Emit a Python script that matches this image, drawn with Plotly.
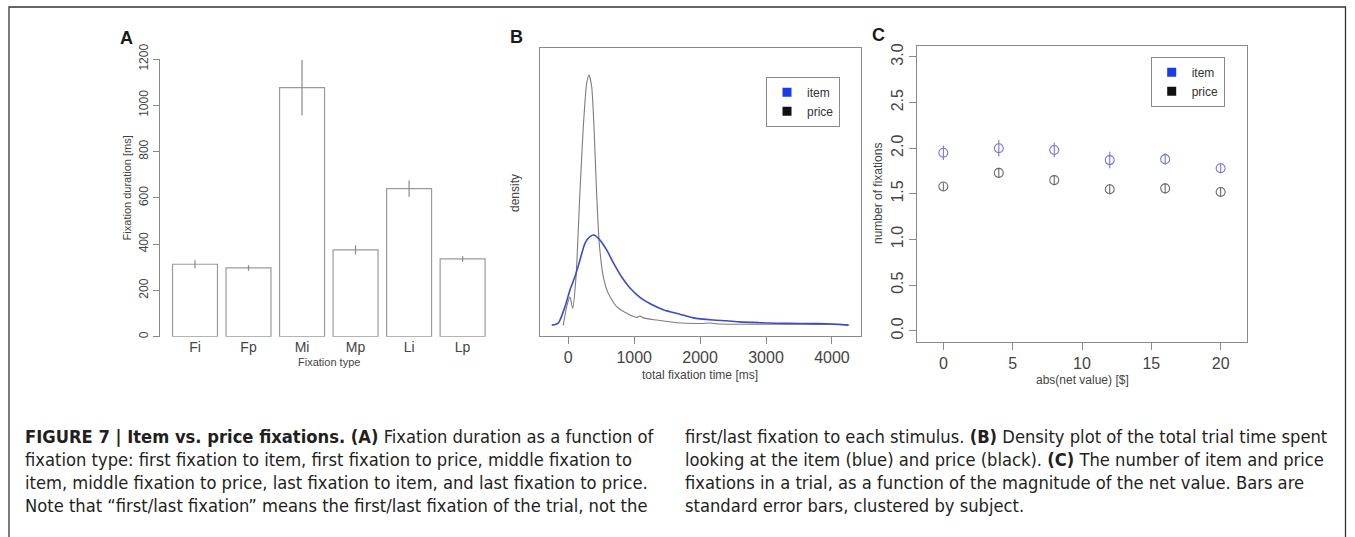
import plotly.graph_objects as go

W, H = 1355, 537

# ---------------- data ----------------
# Panel A
fix_types = ["Fi", "Fp", "Mi", "Mp", "Li", "Lp"]
fix_duration = [313, 297, 1076, 375, 640, 336]
fix_duration_se = [17, 12, 120, 20, 35, 12]

# Panel B (density curves, arbitrary density units)
item_time = [-252, -152, -50, 26, 102, 177, 253, 329, 390, 481, 582, 683, 800, 936, 1087,
             1250, 1450, 1694, 1896, 2200, 2402, 2604, 2900, 3160, 3500, 3717, 3919, 4100, 4247]
item_density = [0.0, 0.008, 0.07, 0.133, 0.183, 0.245, 0.308, 0.333, 0.339, 0.32, 0.283,
                0.235, 0.185, 0.14, 0.105, 0.08, 0.058, 0.042, 0.028, 0.02, 0.017, 0.013,
                0.01, 0.008, 0.007, 0.0065, 0.006, 0.004, 0.001]
price_time = [-76, -24, 26, 67, 117, 177, 228, 279, 314, 355, 390, 430, 470, 531, 607, 734,
              936, 1040, 1087, 1140, 1341, 1644, 2000, 2150, 2300, 3000, 3500, 4000, 4263]
price_density = [0.0, 0.07, 0.107, 0.064, 0.18, 0.50, 0.746, 0.909, 0.94, 0.896, 0.746,
                 0.496, 0.308, 0.183, 0.12, 0.07, 0.039, 0.03, 0.035, 0.028, 0.02, 0.01,
                 0.007, 0.009, 0.005, 0.004, 0.004, 0.003, 0.001]

# Panel C
net_value = [0, 4, 8, 12, 16, 20]
item_fix = [1.95, 2.00, 1.98, 1.87, 1.88, 1.78]
item_fix_se = [0.08, 0.09, 0.08, 0.09, 0.065, 0.055]
price_fix = [1.58, 1.73, 1.65, 1.55, 1.56, 1.52]
price_fix_se = [0.045, 0.055, 0.055, 0.055, 0.055, 0.045]

caption_left = [
    "<b>FIGURE 7 | Item vs. price fixations. (A)</b> Fixation duration as a function of",
    "fixation type: first fixation to item, first fixation to price, middle fixation to",
    "item, middle fixation to price, last fixation to item, and last fixation to price.",
    "Note that \u201cfirst/last fixation\u201d means the first/last fixation of the trial, not the",
]
caption_right = [
    "first/last fixation to each stimulus. <b>(B)</b> Density plot of the total trial time spent",
    "looking at the item (blue) and price (black). <b>(C)</b> The number of item and price",
    "fixations in a trial, as a function of the magnitude of the net value. Bars are",
    "standard error bars, clustered by subject.",
]

# ---------------- style ----------------
FONT = "Liberation Sans, Arial, Helvetica, sans-serif"
CAP_FONT = "DejaVu Sans Condensed, Liberation Sans Narrow, sans-serif"
TXT = "#444444"
AXC = "#8a8a8a"
BLUE_LINE = "#3b4dc6"
BLUE_PT = "#7477dc"
GRAY_LINE = "#7c7c7c"
GRAY_PT = "#6a6a6a"


def px(x):
    return x / W


def py(y):
    return 1 - y / H


fig = go.Figure()

# Panel A bars
fig.add_trace(go.Bar(
    x=fix_types, y=fix_duration,
    marker=dict(color="white", line=dict(color="#9a9a9a", width=1.2)),
    error_y=dict(type="data", array=fix_duration_se, color="#8a8a8a", thickness=1.2, width=0),
    xaxis="x", yaxis="y", showlegend=False,
))

# Panel B curves
fig.add_trace(go.Scatter(
    x=price_time, y=price_density, mode="lines",
    line=dict(color=GRAY_LINE, width=1.1, shape="spline", smoothing=0.6),
    xaxis="x2", yaxis="y2", showlegend=False,
))
fig.add_trace(go.Scatter(
    x=item_time, y=item_density, mode="lines",
    line=dict(color=BLUE_LINE, width=1.6, shape="spline", smoothing=0.6),
    xaxis="x2", yaxis="y2", showlegend=False,
))

# Panel C points
fig.add_trace(go.Scatter(
    x=net_value, y=item_fix, mode="markers",
    marker=dict(symbol="circle-open", size=9, color=BLUE_PT, line=dict(width=1.1)),
    error_y=dict(type="data", array=item_fix_se, color=BLUE_PT, thickness=1.1, width=0),
    xaxis="x3", yaxis="y3", showlegend=False,
))
fig.add_trace(go.Scatter(
    x=net_value, y=price_fix, mode="markers",
    marker=dict(symbol="circle-open", size=9, color=GRAY_PT, line=dict(width=1.1)),
    error_y=dict(type="data", array=price_fix_se, color=GRAY_PT, thickness=1.1, width=0),
    xaxis="x3", yaxis="y3", showlegend=False,
))

# Legend entries
for lg, xa, ya in [("legend", "x2", "y2"), ("legend2", "x3", "y3")]:
    fig.add_trace(go.Scatter(x=[None], y=[None], mode="markers", name="item",
                             marker=dict(symbol="square", size=9, color="#1a3be8"),
                             legend=lg, xaxis=xa, yaxis=ya, showlegend=True))
    fig.add_trace(go.Scatter(x=[None], y=[None], mode="markers", name="price",
                             marker=dict(symbol="square", size=9, color="#111111"),
                             legend=lg, xaxis=xa, yaxis=ya, showlegend=True))

common_tick = dict(color=TXT, family=FONT)

legend_style = dict(bgcolor="white", bordercolor="#8a8a8a", borderwidth=1,
                    font=dict(family=FONT, size=12, color="#333333"),
                    itemwidth=30, xanchor="left", yanchor="top",
                    tracegroupgap=0, itemclick=False, itemdoubleclick=False)

fig.update_layout(
    template="none",
    width=W, height=H, margin=dict(l=0, r=0, t=0, b=0, pad=0, autoexpand=False),
    paper_bgcolor="white", plot_bgcolor="white",
    bargap=0.16,
    xaxis=dict(domain=[px(160.2), px(497.4)], range=[-0.65, 5.65], showline=False, ticks="",
               showgrid=False, zeroline=False, automargin=False,
               tickfont=dict(size=14, **common_tick), anchor="y"),
    yaxis=dict(domain=[py(336.7), py(59)], range=[0, 1200], dtick=200, showline=True, linecolor=AXC,
               linewidth=1, ticks="outside", ticklen=6, tickcolor=AXC, tickangle=-90,
               showgrid=False, zeroline=False, automargin=False,
               tickfont=dict(size=12, **common_tick), anchor="x"),
    xaxis2=dict(domain=[px(540), px(861)], range=[-429, 4441], tickvals=[0, 1000, 2000, 3000, 4000],
                showline=True, mirror=True, linecolor=AXC, linewidth=1, ticks="outside", ticklen=7,
                tickcolor=AXC, showgrid=False, zeroline=False, automargin=False,
                tickfont=dict(size=16, **common_tick), anchor="y2"),
    yaxis2=dict(domain=[py(336), py(48.3)], range=[-0.04, 1.04], showline=True, mirror=True,
                linecolor=AXC, linewidth=1, ticks="", showticklabels=False, showgrid=False,
                zeroline=False, automargin=False, anchor="x2"),
    xaxis3=dict(domain=[px(917.3), px(1246.7)], range=[-1.88, 21.88], tickvals=[0, 5, 10, 15, 20],
                showline=True, mirror=True, linecolor=AXC, linewidth=1, ticks="outside", ticklen=7,
                tickcolor=AXC, showgrid=False, zeroline=False, automargin=False,
                tickfont=dict(size=16, **common_tick), anchor="y3"),
    yaxis3=dict(domain=[py(341.7), py(46)], range=[-0.12, 3.12], tickvals=[0, 0.5, 1, 1.5, 2, 2.5, 3],
                tickformat=".1f", showline=True, mirror=True, linecolor=AXC, linewidth=1,
                ticks="outside", ticklen=7, tickcolor=AXC, tickangle=-90, showgrid=False,
                zeroline=False, automargin=False, tickfont=dict(size=16, **common_tick), anchor="x3"),
    legend=dict(x=px(766), y=py(76.7), **legend_style),
    legend2=dict(x=px(1150.7), y=py(56.7), **legend_style),
)

annotations = []


def ann(text, x, y, size, angle=0, bold=False, color=TXT, family=FONT, xanchor="center"):
    annotations.append(dict(
        text=f"<b>{text}</b>" if bold else text, x=px(x), y=py(y), xref="paper", yref="paper",
        showarrow=False, textangle=angle, xanchor=xanchor, yanchor="middle",
        font=dict(size=size, color=color, family=family),
    ))


# panel letters
ann("A", 127, 38, 18, bold=True, color="#1a1a1a")
ann("B", 516.7, 36.7, 18, bold=True, color="#1a1a1a")
ann("C", 878, 35, 18, bold=True, color="#1a1a1a")

# axis titles
ann("Fixation duration [ms]", 127, 187.4, 11, angle=-90)
ann("Fixation type", 329.3, 361.7, 11)
ann("density", 515, 193, 12, angle=-90)
ann("total fixation time [ms]", 700, 375, 12)
ann("number of fixations", 878, 194, 12, angle=-90)
ann("abs(net value) [$]", 1082.3, 380, 12)

# caption
cap_y = [436, 459, 482, 505]
for i, line in enumerate(caption_left):
    ann(line, 23, cap_y[i], 18.2, color="#231f20", family=CAP_FONT, xanchor="left")
for i, line in enumerate(caption_right):
    ann(line, 683, cap_y[i], 18.2, color="#231f20", family=CAP_FONT, xanchor="left")

fig.update_layout(annotations=annotations)

# outer frame
fig.add_shape(type="rect", xref="paper", yref="paper", x0=px(9), x1=px(1345.5), y0=-0.02, y1=py(7),
              line=dict(color="#333333", width=1.3), fillcolor="rgba(0,0,0,0)")

fig.write_html("out.html")
